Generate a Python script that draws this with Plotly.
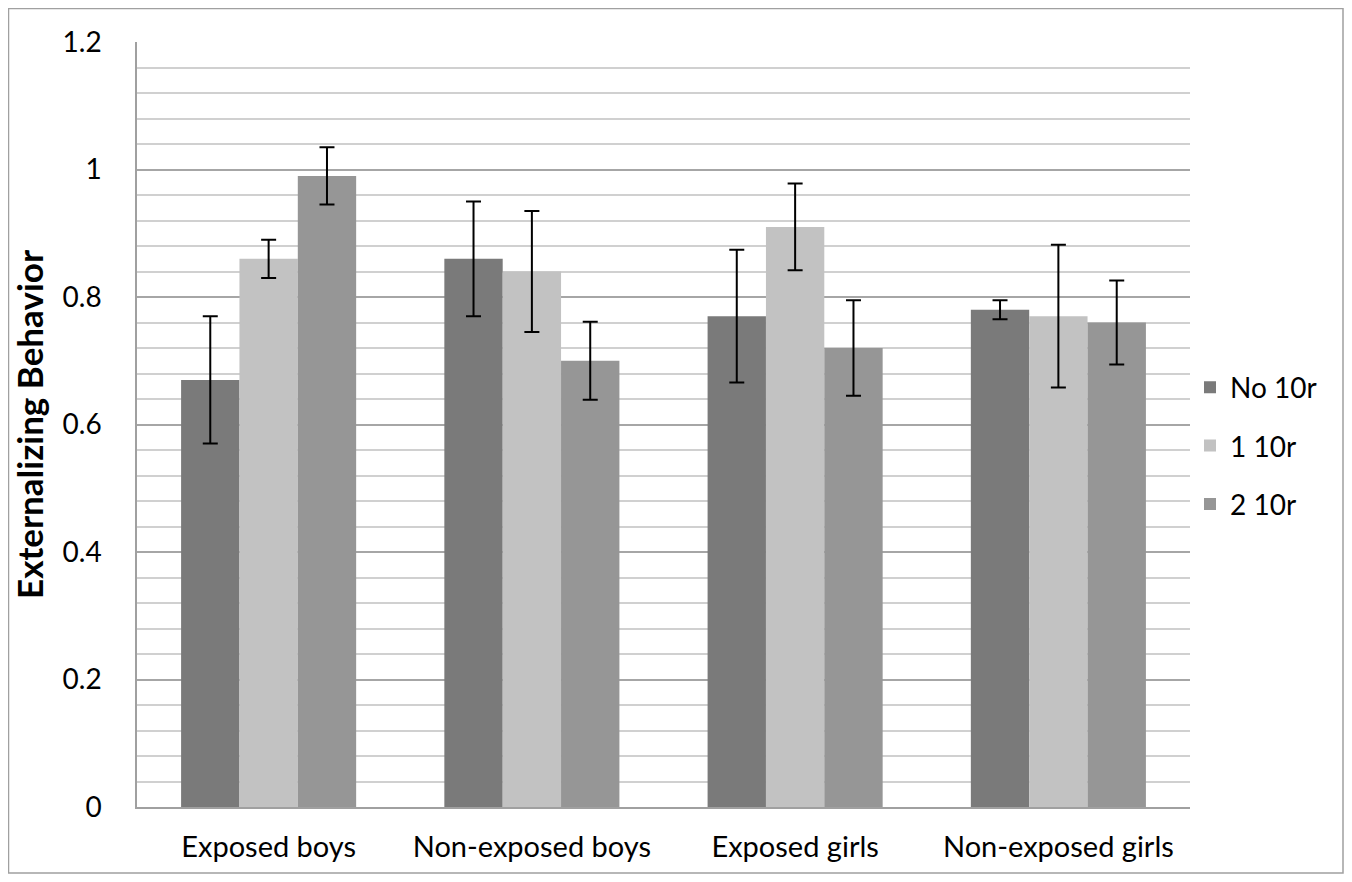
import plotly.graph_objects as go

categories = ["Exposed boys", "Non-exposed boys", "Exposed girls", "Non-exposed girls"]
series_names = ["No 10r", "1 10r", "2 10r"]
no_10r = [0.67, 0.86, 0.77, 0.78]
no_10r_err = [0.10, 0.09, 0.104, 0.015]
one_10r = [0.86, 0.84, 0.91, 0.77]
one_10r_err = [0.03, 0.095, 0.068, 0.112]
two_10r = [0.99, 0.70, 0.72, 0.76]
two_10r_err = [0.045, 0.061, 0.075, 0.066]
y_ticks = [0, 0.2, 0.4, 0.6, 0.8, 1.0, 1.2]

colors = ["#7a7a7a", "#c2c2c2", "#969696"]
values = [no_10r, one_10r, two_10r]
errors = [no_10r_err, one_10r_err, two_10r_err]

FONT = "Lato"

fig = go.Figure()
for name, vals, errs, col in zip(series_names, values, errors, colors):
    fig.add_trace(go.Bar(
        x=categories, y=vals, name=name, legendgroup=name,
        marker=dict(color=col, line=dict(width=0)),
        error_y=dict(type="data", array=errs, visible=True,
                     color="black", thickness=2, width=7.5),
    ))

# page has an 8px body margin; figure sized to fit the window exactly
OFF = 8
W, H = 1336, 866
L = 137 - OFF
T = 42 - OFF
R = (OFF + W) - 1190
B = (OFF + H) - 807
pw, ph = W - L - R, H - T - B

def px_x(p):
    return (p - OFF - L) / pw

def px_y(p):
    return (OFF + H - B - p) / ph

fig.update_layout(
    width=W, height=H,
    margin=dict(l=L, r=R, t=T, b=B, autoexpand=False),
    paper_bgcolor="white", plot_bgcolor="white",
    barmode="group", bargap=0.335, bargroupgap=0,
    font=dict(family=FONT, size=28, color="black"),
    showlegend=True,
    legend=dict(x=px_x(1190), y=px_y(446), xanchor="left", yanchor="middle",
                font=dict(family=FONT, size=28, color="black"),
                tracegroupgap=19, traceorder="grouped",
                bgcolor="rgba(0,0,0,0)"),
    xaxis=dict(showline=True, linecolor="#a0a0a0", linewidth=1.5,
               ticks="", ticklabelstandoff=13, automargin=False,
               tickfont=dict(family=FONT, size=29, color="black")),
    yaxis=dict(range=[0, 1.2], tickvals=y_ticks, automargin=False,
               showline=True, linecolor="#a0a0a0", linewidth=1.5,
               showgrid=True, gridcolor="#a6a6a6", gridwidth=1.5,
               zeroline=False, ticks="", ticklabelstandoff=28,
               tickfont=dict(family=FONT, size=28, color="black"),
               minor=dict(dtick=0.04, showgrid=True, gridcolor="#d0d0d0", gridwidth=1.5),
               title=dict(text="<b>Externalizing Behavior</b>", standoff=21,
                          font=dict(family=FONT, size=35, color="black"))),
    shapes=[dict(type="rect", xref="paper", yref="paper",
                 x0=px_x(8.5), x1=px_x(1343), y0=px_y(873), y1=px_y(8.5),
                 line=dict(color="#a0a0a0", width=1.5), layer="below")],
)

fig.write_html("out.html")
